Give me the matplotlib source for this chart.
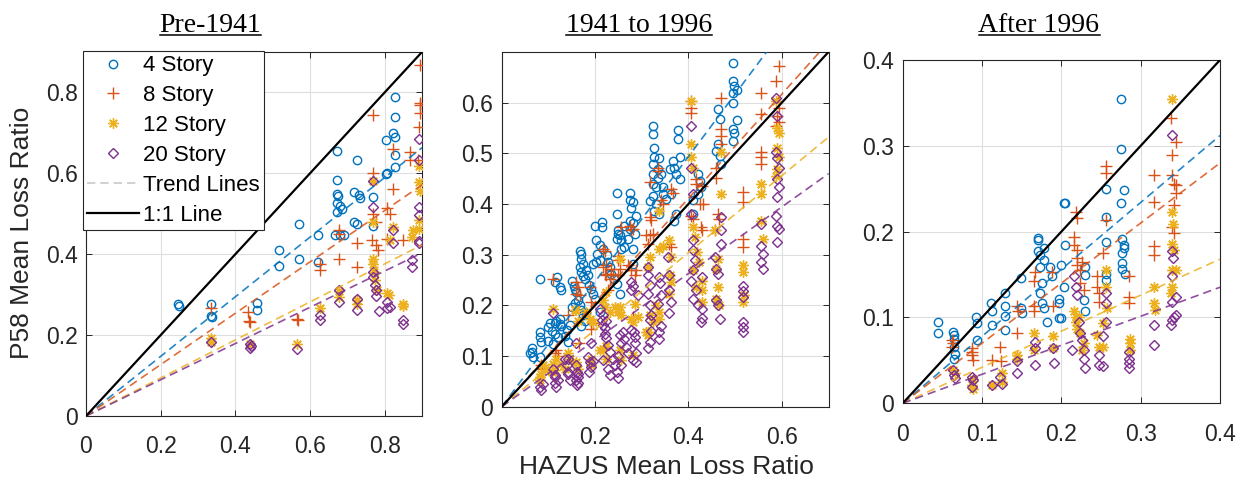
import matplotlib

matplotlib.use("Agg")
import matplotlib.pyplot as plt  # noqa: E402
from matplotlib.lines import Line2D  # noqa: E402
from matplotlib.ticker import FuncFormatter  # noqa: E402

plt.rcParams["font.family"] = ["Liberation Sans", "DejaVu Sans"]

# colours of the four building heights (MATLAB default order)
STORIES = ["4 Story", "8 Story", "12 Story", "20 Story"]
COLORS = ["#0072BD", "#D95319", "#EDB120", "#7E2F8E"]
MARKERS = ["o", "+", (8, 2, 0), "D"]
MSIZES = [6.0, 8.0, 7.5, 5.2]
TITLES = ["Pre-1941", "1941 to 1996", "After 1996"]

# ---------------- Pre-1941 ----------------
PRE_4 = [(0.247, 0.277), (0.249, 0.273), (0.335, 0.278), (0.335, 0.248), (0.337, 0.244),
         (0.457, 0.280), (0.459, 0.262), (0.517, 0.411), (0.517, 0.371), (0.570, 0.474),
         (0.570, 0.389), (0.622, 0.447), (0.622, 0.381), (0.673, 0.656), (0.673, 0.584),
         (0.673, 0.549), (0.676, 0.545), (0.673, 0.526), (0.673, 0.504), (0.668, 0.447),
         (0.680, 0.519), (0.686, 0.512), (0.680, 0.447), (0.692, 0.447), (0.718, 0.555),
         (0.718, 0.479), (0.727, 0.474), (0.727, 0.632), (0.731, 0.547), (0.733, 0.540),
         (0.769, 0.541), (0.769, 0.471), (0.803, 0.683), (0.803, 0.599), (0.806, 0.601),
         (0.827, 0.788), (0.829, 0.740), (0.823, 0.699), (0.827, 0.689), (0.829, 0.646),
         (0.827, 0.615)]
PRE_8 = [(0.335, 0.266), (0.434, 0.257), (0.437, 0.235), (0.439, 0.233), (0.566, 0.241),
         (0.568, 0.237), (0.626, 0.375), (0.626, 0.362), (0.677, 0.461), (0.677, 0.451),
         (0.677, 0.387), (0.725, 0.428), (0.725, 0.368), (0.769, 0.744), (0.769, 0.600),
         (0.769, 0.500), (0.767, 0.436), (0.776, 0.422), (0.782, 0.410), (0.778, 0.480),
         (0.807, 0.515), (0.813, 0.500), (0.805, 0.438), (0.821, 0.659), (0.821, 0.562),
         (0.849, 0.436), (0.869, 0.652), (0.869, 0.632), (0.894, 0.868), (0.894, 0.773),
         (0.894, 0.770), (0.894, 0.748), (0.892, 0.715), (0.889, 0.632)]
PRE_12 = [(0.334, 0.194), (0.334, 0.183), (0.439, 0.179), (0.566, 0.178), (0.626, 0.268),
          (0.677, 0.309), (0.677, 0.294), (0.725, 0.288), (0.725, 0.276), (0.769, 0.582),
          (0.769, 0.479), (0.769, 0.389), (0.769, 0.377), (0.772, 0.356), (0.775, 0.336),
          (0.780, 0.311), (0.805, 0.303), (0.812, 0.300), (0.821, 0.467), (0.814, 0.436),
          (0.849, 0.278), (0.849, 0.271), (0.872, 0.442), (0.877, 0.459), (0.892, 0.617),
          (0.892, 0.578), (0.895, 0.556), (0.892, 0.484), (0.892, 0.463)]
PRE_20 = [(0.334, 0.183), (0.439, 0.179), (0.439, 0.167), (0.441, 0.173), (0.566, 0.165),
          (0.626, 0.249), (0.626, 0.238), (0.677, 0.311), (0.677, 0.282), (0.725, 0.290),
          (0.725, 0.262), (0.769, 0.582), (0.769, 0.516), (0.769, 0.356), (0.769, 0.344),
          (0.773, 0.323), (0.778, 0.311), (0.778, 0.296), (0.785, 0.260), (0.805, 0.282),
          (0.807, 0.266), (0.814, 0.270), (0.821, 0.461), (0.821, 0.428), (0.849, 0.237),
          (0.849, 0.227), (0.874, 0.385), (0.874, 0.368), (0.892, 0.685), (0.892, 0.633),
          (0.892, 0.516), (0.892, 0.496), (0.892, 0.433), (0.892, 0.428)]

# ---------------- 1941 to 1996 ----------------
MID_4 = [(0.064, 0.115), (0.064, 0.108), (0.068, 0.098), (0.060, 0.105), (0.082, 0.252),
         (0.082, 0.148), (0.082, 0.138), (0.085, 0.128), (0.082, 0.098), (0.100, 0.157),
         (0.100, 0.130), (0.110, 0.123), (0.114, 0.144), (0.114, 0.165), (0.117, 0.170),
         (0.121, 0.138), (0.125, 0.174), (0.125, 0.164), (0.128, 0.160), (0.114, 0.246),
         (0.119, 0.256), (0.125, 0.236), (0.128, 0.230), (0.139, 0.151), (0.146, 0.161),
         (0.142, 0.128), (0.150, 0.249), (0.155, 0.239), (0.158, 0.233), (0.160, 0.226),
         (0.167, 0.308), (0.170, 0.302), (0.170, 0.292), (0.174, 0.282), (0.167, 0.275),
         (0.170, 0.265), (0.174, 0.258), (0.178, 0.252), (0.181, 0.270), (0.185, 0.260),
         (0.164, 0.210), (0.167, 0.200), (0.170, 0.190), (0.174, 0.180), (0.178, 0.170),
         (0.170, 0.160), (0.181, 0.185), (0.192, 0.233), (0.196, 0.223), (0.200, 0.213),
         (0.210, 0.187), (0.196, 0.282), (0.203, 0.285), (0.210, 0.289), (0.203, 0.328),
         (0.210, 0.320), (0.217, 0.311), (0.214, 0.364), (0.214, 0.354), (0.200, 0.357),
         (0.228, 0.285), (0.232, 0.275), (0.235, 0.262), (0.240, 0.252), (0.246, 0.243),
         (0.246, 0.330), (0.250, 0.340), (0.256, 0.328), (0.246, 0.421), (0.246, 0.380),
         (0.250, 0.348), (0.253, 0.338), (0.256, 0.311), (0.263, 0.315), (0.253, 0.223),
         (0.274, 0.421), (0.274, 0.408), (0.278, 0.393), (0.281, 0.403), (0.274, 0.367),
         (0.281, 0.362), (0.285, 0.341), (0.281, 0.311), (0.270, 0.330), (0.281, 0.282),
         (0.275, 0.350), (0.324, 0.554), (0.324, 0.538), (0.327, 0.511), (0.327, 0.492),
         (0.324, 0.479), (0.324, 0.459), (0.324, 0.439), (0.331, 0.433), (0.335, 0.452),
         (0.324, 0.416), (0.331, 0.400), (0.327, 0.387), (0.338, 0.380), (0.341, 0.459),
         (0.345, 0.433), (0.335, 0.470), (0.338, 0.490), (0.367, 0.485), (0.370, 0.472),
         (0.374, 0.459), (0.377, 0.547), (0.377, 0.528), (0.381, 0.492), (0.381, 0.449),
         (0.363, 0.420), (0.374, 0.380), (0.370, 0.367), (0.360, 0.470), (0.409, 0.407),
         (0.409, 0.380), (0.420, 0.459), (0.424, 0.446), (0.427, 0.433), (0.420, 0.420),
         (0.463, 0.587), (0.467, 0.567), (0.463, 0.518), (0.467, 0.495), (0.470, 0.479),
         (0.460, 0.505), (0.495, 0.679), (0.495, 0.643), (0.498, 0.633), (0.495, 0.620),
         (0.495, 0.600), (0.495, 0.548), (0.495, 0.525), (0.498, 0.541), (0.503, 0.565),
         (0.503, 0.625), (0.103, 0.166), (0.107, 0.150), (0.135, 0.140), (0.150, 0.197),
         (0.157, 0.205), (0.188, 0.240), (0.205, 0.302), (0.225, 0.300), (0.262, 0.357),
         (0.288, 0.377), (0.318, 0.405), (0.345, 0.420), (0.352, 0.410)]
MID_8 = [(0.089, 0.075), (0.110, 0.252), (0.114, 0.105), (0.117, 0.111), (0.121, 0.100),
         (0.142, 0.180), (0.160, 0.246), (0.160, 0.223), (0.165, 0.125), (0.189, 0.236),
         (0.192, 0.154), (0.196, 0.165), (0.217, 0.311), (0.221, 0.308), (0.217, 0.275),
         (0.221, 0.262), (0.231, 0.252), (0.228, 0.230), (0.253, 0.272), (0.256, 0.354),
         (0.249, 0.260), (0.278, 0.348), (0.288, 0.270), (0.285, 0.260), (0.281, 0.177),
         (0.317, 0.443), (0.317, 0.374), (0.320, 0.368), (0.317, 0.338), (0.324, 0.340),
         (0.335, 0.472), (0.335, 0.465), (0.342, 0.407), (0.345, 0.400), (0.359, 0.321),
         (0.362, 0.315), (0.363, 0.429), (0.366, 0.422), (0.406, 0.603), (0.406, 0.590),
         (0.406, 0.580), (0.406, 0.377), (0.410, 0.370), (0.416, 0.449), (0.416, 0.439),
         (0.424, 0.400), (0.431, 0.400), (0.430, 0.435), (0.427, 0.354), (0.430, 0.348),
         (0.459, 0.472), (0.459, 0.452), (0.470, 0.610), (0.470, 0.548), (0.470, 0.534),
         (0.470, 0.518), (0.463, 0.380), (0.456, 0.348), (0.465, 0.370), (0.516, 0.423),
         (0.516, 0.403), (0.516, 0.331), (0.516, 0.315), (0.555, 0.620), (0.555, 0.577),
         (0.555, 0.502), (0.555, 0.492), (0.555, 0.479), (0.587, 0.643), (0.594, 0.672),
         (0.594, 0.590), (0.590, 0.574), (0.594, 0.561), (0.587, 0.554), (0.085, 0.082),
         (0.089, 0.077), (0.164, 0.236), (0.167, 0.220), (0.192, 0.207), (0.224, 0.279),
         (0.224, 0.259), (0.235, 0.272), (0.238, 0.262), (0.270, 0.279), (0.278, 0.270),
         (0.249, 0.298), (0.249, 0.289), (0.310, 0.338), (0.313, 0.321), (0.274, 0.357),
         (0.281, 0.351)]
MID_12 = [(0.082, 0.059), (0.082, 0.052), (0.085, 0.065), (0.110, 0.193), (0.110, 0.085),
          (0.114, 0.073), (0.117, 0.095), (0.142, 0.105), (0.146, 0.095), (0.160, 0.190),
          (0.160, 0.089), (0.164, 0.075), (0.189, 0.174), (0.192, 0.082), (0.192, 0.095),
          (0.217, 0.210), (0.221, 0.197), (0.217, 0.111), (0.224, 0.120), (0.253, 0.292),
          (0.253, 0.197), (0.256, 0.180), (0.253, 0.111), (0.256, 0.092), (0.278, 0.174),
          (0.281, 0.168), (0.281, 0.102), (0.313, 0.275), (0.317, 0.295), (0.313, 0.148),
          (0.338, 0.387), (0.338, 0.311), (0.345, 0.318), (0.338, 0.174), (0.359, 0.328),
          (0.362, 0.295), (0.359, 0.223), (0.360, 0.259), (0.363, 0.246), (0.406, 0.603),
          (0.406, 0.518), (0.406, 0.492), (0.410, 0.472), (0.410, 0.354), (0.414, 0.334),
          (0.418, 0.305), (0.422, 0.285), (0.410, 0.269), (0.416, 0.236), (0.430, 0.249),
          (0.430, 0.230), (0.430, 0.207), (0.456, 0.348), (0.463, 0.292), (0.460, 0.272),
          (0.463, 0.236), (0.460, 0.213), (0.466, 0.200), (0.470, 0.502), (0.470, 0.420),
          (0.516, 0.279), (0.516, 0.266), (0.516, 0.207), (0.520, 0.220), (0.555, 0.439),
          (0.555, 0.420), (0.555, 0.367), (0.559, 0.331), (0.587, 0.603), (0.590, 0.551),
          (0.594, 0.541), (0.590, 0.511), (0.594, 0.492), (0.587, 0.456), (0.590, 0.470),
          (0.089, 0.082), (0.100, 0.075), (0.107, 0.069), (0.128, 0.085), (0.135, 0.075),
          (0.157, 0.190), (0.164, 0.170), (0.181, 0.187), (0.196, 0.167), (0.224, 0.226),
          (0.231, 0.187), (0.210, 0.111), (0.224, 0.095), (0.242, 0.197), (0.249, 0.187),
          (0.285, 0.203), (0.292, 0.177), (0.310, 0.148), (0.313, 0.141), (0.317, 0.180),
          (0.324, 0.167), (0.331, 0.200), (0.338, 0.187)]
MID_20 = [(0.082, 0.039), (0.085, 0.033), (0.089, 0.045), (0.110, 0.184), (0.114, 0.059),
          (0.114, 0.046), (0.117, 0.039), (0.121, 0.052), (0.142, 0.095), (0.146, 0.052),
          (0.142, 0.065), (0.160, 0.125), (0.160, 0.052), (0.164, 0.046), (0.164, 0.065),
          (0.192, 0.125), (0.192, 0.079), (0.196, 0.090), (0.217, 0.180), (0.217, 0.161),
          (0.221, 0.144), (0.217, 0.092), (0.224, 0.170), (0.231, 0.062), (0.228, 0.075),
          (0.253, 0.141), (0.256, 0.125), (0.256, 0.082), (0.249, 0.100), (0.278, 0.246),
          (0.278, 0.230), (0.278, 0.151), (0.281, 0.092), (0.285, 0.138), (0.313, 0.275),
          (0.313, 0.223), (0.317, 0.171), (0.313, 0.115), (0.317, 0.200), (0.338, 0.256),
          (0.335, 0.203), (0.338, 0.134), (0.341, 0.160), (0.338, 0.148), (0.356, 0.295),
          (0.359, 0.259), (0.359, 0.230), (0.363, 0.207), (0.359, 0.184), (0.406, 0.554),
          (0.406, 0.472), (0.410, 0.420), (0.406, 0.380), (0.410, 0.328), (0.410, 0.310),
          (0.414, 0.290), (0.410, 0.270), (0.406, 0.249), (0.410, 0.213), (0.416, 0.230),
          (0.420, 0.200), (0.430, 0.256), (0.430, 0.193), (0.430, 0.175), (0.427, 0.167),
          (0.456, 0.295), (0.460, 0.272), (0.463, 0.262), (0.463, 0.200), (0.467, 0.174),
          (0.460, 0.210), (0.470, 0.374), (0.470, 0.348), (0.470, 0.321), (0.516, 0.239),
          (0.516, 0.229), (0.516, 0.216), (0.516, 0.167), (0.516, 0.157), (0.516, 0.148),
          (0.555, 0.361), (0.555, 0.318), (0.559, 0.302), (0.555, 0.285), (0.559, 0.272),
          (0.587, 0.610), (0.590, 0.574), (0.587, 0.502), (0.590, 0.490), (0.594, 0.472),
          (0.590, 0.450), (0.594, 0.433), (0.590, 0.413), (0.587, 0.377), (0.590, 0.357),
          (0.594, 0.351), (0.590, 0.325), (0.110, 0.075), (0.114, 0.062), (0.135, 0.095),
          (0.139, 0.082), (0.142, 0.069), (0.160, 0.082), (0.162, 0.069), (0.164, 0.059),
          (0.162, 0.043), (0.185, 0.098), (0.189, 0.089), (0.187, 0.069), (0.210, 0.193),
          (0.214, 0.172), (0.221, 0.155), (0.224, 0.135), (0.228, 0.121), (0.231, 0.108),
          (0.238, 0.095), (0.242, 0.082), (0.246, 0.069), (0.249, 0.056), (0.260, 0.148),
          (0.263, 0.134), (0.267, 0.118), (0.270, 0.105), (0.284, 0.148), (0.286, 0.125),
          (0.288, 0.105), (0.288, 0.089), (0.282, 0.239), (0.292, 0.220), (0.313, 0.259),
          (0.317, 0.240), (0.320, 0.180), (0.320, 0.150), (0.317, 0.128), (0.340, 0.245),
          (0.342, 0.220)]

# ---------------- After 1996 ----------------
POST_4 = [(0.045, 0.095), (0.045, 0.082), (0.064, 0.083), (0.065, 0.080), (0.065, 0.075),
          (0.065, 0.066), (0.066, 0.058), (0.065, 0.052), (0.093, 0.101), (0.094, 0.093),
          (0.094, 0.074), (0.111, 0.117), (0.112, 0.107), (0.112, 0.091), (0.129, 0.128),
          (0.129, 0.113), (0.129, 0.102), (0.129, 0.085), (0.149, 0.146), (0.149, 0.111),
          (0.150, 0.105), (0.171, 0.193), (0.171, 0.190), (0.171, 0.177), (0.173, 0.173),
          (0.173, 0.159), (0.175, 0.140), (0.173, 0.128), (0.178, 0.181), (0.178, 0.167),
          (0.175, 0.117), (0.178, 0.111), (0.182, 0.095), (0.186, 0.159), (0.188, 0.148),
          (0.197, 0.122), (0.197, 0.117), (0.197, 0.099), (0.200, 0.099), (0.203, 0.233),
          (0.205, 0.233), (0.205, 0.184), (0.200, 0.161), (0.203, 0.136), (0.228, 0.120),
          (0.230, 0.107), (0.230, 0.159), (0.230, 0.150), (0.256, 0.217), (0.256, 0.250),
          (0.256, 0.188), (0.256, 0.151), (0.256, 0.144), (0.275, 0.354), (0.275, 0.296),
          (0.275, 0.233), (0.277, 0.192), (0.277, 0.175), (0.277, 0.163), (0.276, 0.157),
          (0.280, 0.151), (0.279, 0.248), (0.279, 0.184), (0.279, 0.181)]
POST_8 = [(0.062, 0.074), (0.063, 0.070), (0.062, 0.066), (0.087, 0.064), (0.087, 0.056),
          (0.089, 0.050), (0.087, 0.060), (0.112, 0.050), (0.123, 0.066), (0.124, 0.049),
          (0.144, 0.113), (0.144, 0.082), (0.145, 0.107), (0.165, 0.142), (0.165, 0.113),
          (0.165, 0.107), (0.167, 0.153), (0.188, 0.153), (0.190, 0.113), (0.218, 0.223),
          (0.220, 0.216), (0.216, 0.194), (0.216, 0.184), (0.220, 0.179), (0.220, 0.169),
          (0.220, 0.161), (0.224, 0.155), (0.224, 0.140), (0.228, 0.132), (0.226, 0.165),
          (0.245, 0.148), (0.245, 0.136), (0.247, 0.128), (0.247, 0.118), (0.256, 0.276),
          (0.256, 0.268), (0.256, 0.214), (0.253, 0.175), (0.285, 0.148), (0.285, 0.124),
          (0.285, 0.117), (0.317, 0.266), (0.317, 0.235), (0.317, 0.183), (0.317, 0.173),
          (0.338, 0.332), (0.340, 0.289), (0.340, 0.266), (0.342, 0.231), (0.342, 0.256),
          (0.344, 0.254), (0.344, 0.245), (0.344, 0.305), (0.340, 0.206), (0.342, 0.198)]
POST_12 = [(0.064, 0.039), (0.066, 0.035), (0.087, 0.021), (0.088, 0.017), (0.089, 0.028),
           (0.112, 0.021), (0.125, 0.025), (0.125, 0.035), (0.144, 0.056), (0.144, 0.052),
           (0.165, 0.082), (0.165, 0.062), (0.190, 0.078), (0.190, 0.064), (0.216, 0.107),
           (0.218, 0.101), (0.218, 0.095), (0.220, 0.087), (0.224, 0.082), (0.228, 0.070),
           (0.226, 0.062), (0.222, 0.100), (0.245, 0.080), (0.247, 0.066), (0.256, 0.155),
           (0.256, 0.136), (0.257, 0.111), (0.253, 0.093), (0.253, 0.066), (0.287, 0.075),
           (0.287, 0.070), (0.287, 0.062), (0.317, 0.136), (0.317, 0.117), (0.318, 0.109),
           (0.340, 0.355), (0.340, 0.223), (0.341, 0.209), (0.340, 0.186), (0.342, 0.179),
           (0.340, 0.155), (0.344, 0.155), (0.340, 0.136), (0.338, 0.128)]
POST_20 = [(0.064, 0.039), (0.065, 0.033), (0.066, 0.029), (0.087, 0.031), (0.089, 0.027),
           (0.087, 0.019), (0.112, 0.021), (0.123, 0.031), (0.125, 0.023), (0.144, 0.049),
           (0.144, 0.035), (0.167, 0.072), (0.167, 0.064), (0.167, 0.045), (0.190, 0.064),
           (0.191, 0.047), (0.216, 0.148), (0.218, 0.136), (0.220, 0.126), (0.214, 0.062),
           (0.224, 0.082), (0.226, 0.074), (0.228, 0.062), (0.228, 0.052), (0.230, 0.041),
           (0.222, 0.095), (0.247, 0.056), (0.247, 0.045), (0.253, 0.043), (0.256, 0.128),
           (0.256, 0.117), (0.256, 0.095), (0.253, 0.078), (0.285, 0.060), (0.285, 0.052),
           (0.285, 0.047), (0.285, 0.041), (0.317, 0.091), (0.317, 0.068), (0.340, 0.313),
           (0.340, 0.177), (0.341, 0.169), (0.339, 0.148), (0.340, 0.118), (0.344, 0.124),
           (0.338, 0.091), (0.340, 0.097), (0.342, 0.101), (0.344, 0.103)]

# slopes of the trend lines through the origin
PRE_SLOPES = [0.737, 0.635, 0.47, 0.448]
MID_SLOPES = [1.234, 1.028, 0.76, 0.657]
POST_SLOPES = [0.78, 0.70, 0.42, 0.338]

# tick positions per panel
PRE_TICKS = [0, 0.2, 0.4, 0.6, 0.8]
MID_XTICKS = [0, 0.2, 0.4, 0.6]
MID_YTICKS = [0, 0.1, 0.2, 0.3, 0.4, 0.5, 0.6]
POST_TICKS = [0, 0.1, 0.2, 0.3, 0.4]

PANELS = [
    dict(data=[PRE_4, PRE_8, PRE_12, PRE_20], slopes=PRE_SLOPES, lim=0.9,
         xt=PRE_TICKS, yt=PRE_TICKS, rect=[86, 52, 422, 416], title_x=210.5),
    dict(data=[MID_4, MID_8, MID_12, MID_20], slopes=MID_SLOPES, lim=0.7,
         xt=MID_XTICKS, yt=MID_YTICKS, rect=[501.7, 52, 828.5, 406.7], title_x=639),
    dict(data=[POST_4, POST_8, POST_12, POST_20], slopes=POST_SLOPES, lim=0.4,
         xt=POST_TICKS, yt=POST_TICKS, rect=[902.7, 60, 1220, 403.3], title_x=1039),
]

W, H = 1247, 480
TXT = "#262626"

fig = plt.figure(figsize=(W / 100, H / 100), dpi=100)
fmt = FuncFormatter(lambda v, _: f"{v:g}")

axes = []
titles = []
for i, p in enumerate(PANELS):
    x0, y0, x1, y1 = p["rect"]
    ax = fig.add_axes([x0 / W, 1 - y1 / H, (x1 - x0) / W, (y1 - y0) / H])
    axes.append(ax)
    lim = p["lim"]
    for pts, col, mk, ms in zip(p["data"], COLORS, MARKERS, MSIZES):
        xs = [a for a, _ in pts]
        ys = [b for _, b in pts]
        ax.plot(xs, ys, linestyle="none", marker=mk, ms=ms, mfc="none",
                mec=col, mew=1.0, zorder=3)
    for k, col in zip(p["slopes"], COLORS):
        ax.plot([0, lim], [0, k * lim], color=col, lw=1.2, dashes=(5, 3),
                alpha=0.85, zorder=4)
    ax.plot([0, lim], [0, lim], color="black", lw=1.6, zorder=5)
    ax.set_xlim(0, lim)
    ax.set_ylim(0, lim)
    ax.set_xticks(p["xt"])
    ax.set_yticks(p["yt"])
    ax.xaxis.set_major_formatter(fmt)
    ax.yaxis.set_major_formatter(fmt)
    ax.grid(True, color="#dedede", lw=0.8)
    ax.set_axisbelow(True)
    ax.tick_params(direction="in", top=True, right=True, length=4, width=0.7,
                   color=TXT, labelcolor=TXT, labelsize=16.5)
    ax.tick_params(axis="x", pad=14)
    ax.tick_params(axis="y", pad=6)
    for s in ax.spines.values():
        s.set_color(TXT)
        s.set_linewidth(0.8)

    titles.append(fig.text(p["title_x"] / W, 1 - 31.7 / H, TITLES[i],
                           ha="center", va="baseline", fontsize=20,
                           family=["Liberation Serif", "DejaVu Serif"],
                           color="black"))

fig.text(21.7 / W, 1 - 233 / H, "P58 Mean Loss Ratio", rotation=90,
         ha="center", va="center", fontsize=19, color=TXT)
fig.text(666 / W, 1 - 467 / H, "HAZUS Mean Loss Ratio", ha="center",
         va="center", fontsize=19, color=TXT)

# legend on the first panel
handles = [Line2D([], [], linestyle="none", marker=mk, mfc="none", mec=col,
                  mew=1.0, ms=ms)
           for col, mk, ms in zip(COLORS, MARKERS, MSIZES)]
handles.append(Line2D([], [], color="#c8c8c8", lw=1.2, dashes=(5, 3)))
handles.append(Line2D([], [], color="black", lw=1.6))
leg = axes[0].legend(handles, STORIES + ["Trend Lines", "1:1 Line"],
                     loc="upper left", bbox_to_anchor=(-0.009, 1.003),
                     borderaxespad=0, fontsize=16, frameon=True, fancybox=False,
                     framealpha=1, edgecolor=TXT, handlelength=2.3,
                     handletextpad=0.2, labelspacing=0.4, borderpad=0.2)
leg.get_frame().set_linewidth(0.8)
leg.set_zorder(10)

# underline the titles
fig.canvas.draw()
r = fig.canvas.get_renderer()
for t in titles:
    bb = t.get_window_extent(r)
    yb = 1 - 35.2 / H
    fig.add_artist(Line2D([bb.x0 / W, bb.x1 / W], [yb, yb], color="black",
                          lw=1.1, transform=fig.transFigure))

fig.savefig("out.png", dpi=100)
